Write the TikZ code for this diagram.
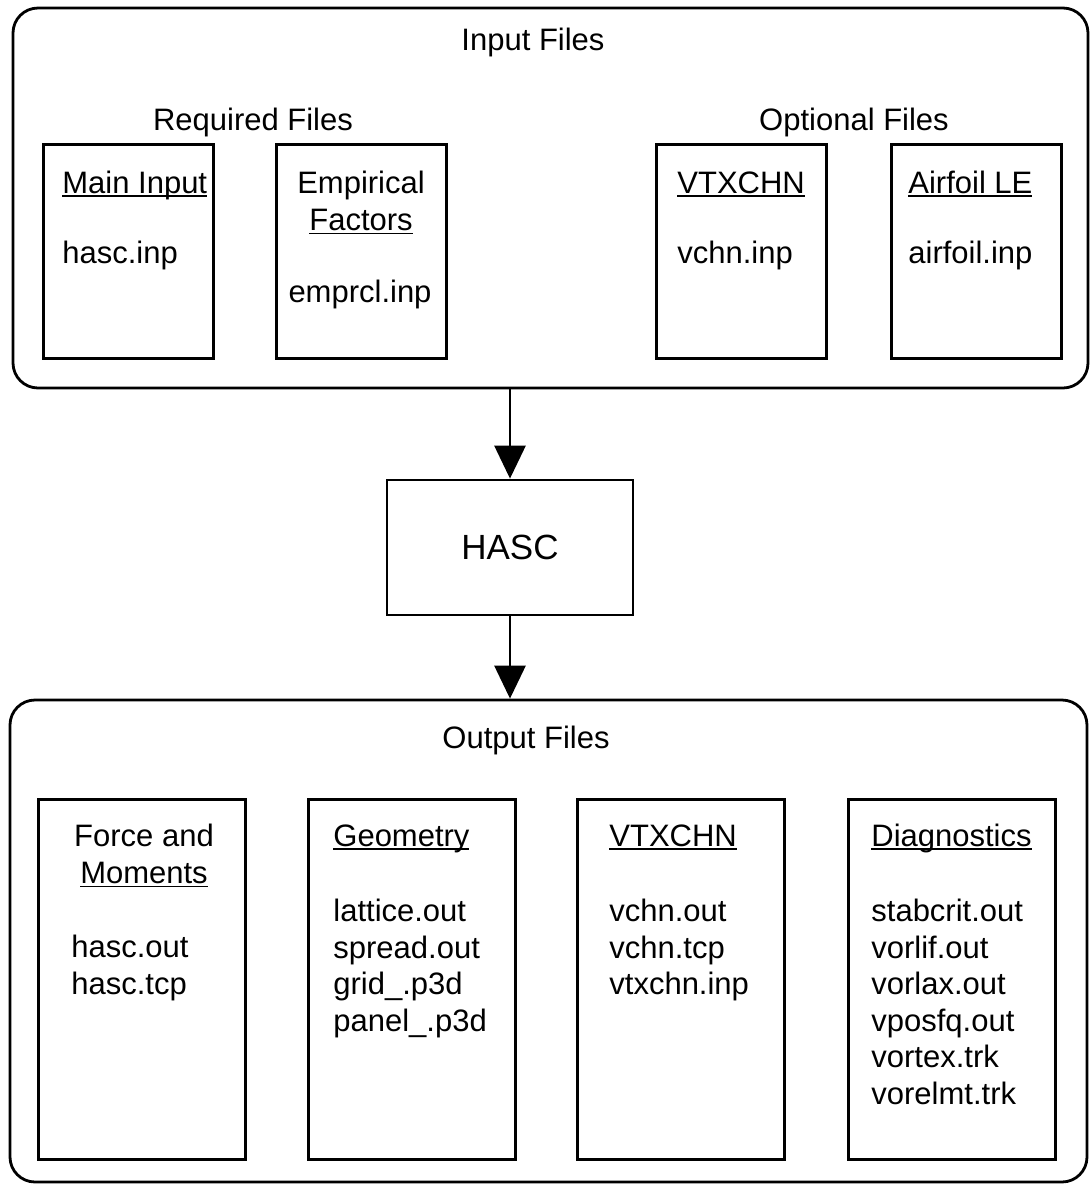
\documentclass[tikz,border=0pt]{standalone}
\usepackage{fontspec}
\setmainfont{Liberation Sans}
\usetikzlibrary{arrows.meta,positioning}
\newsavebox\ulbox
\newcommand{\ulin}[1]{\sbox\ulbox{#1}\rlap{\rule[-2pt]{\wd\ulbox}{0.9pt}}\usebox\ulbox}
\tikzset{
  grp/.style={draw,line width=1.4pt,rounded corners=12.5pt,inner sep=0pt},
  fbox/.style={draw,line width=1.4pt,anchor=north west,minimum width=85pt,minimum height=107pt,inner sep=0pt},
  obox/.style={fbox,minimum width=103.5pt,minimum height=180pt},
  prog/.style={draw,line width=1.4pt,minimum width=123pt,minimum height=67.5pt,font=\fontsize{17.5pt}{20pt}\selectfont},
  ttl/.style={anchor=base,inner sep=0pt},
  hd/.style={anchor=base west,inner sep=0pt},
  hdc/.style={anchor=north,align=center,inner sep=0pt},
  lst/.style={anchor=north west,align=left,inner sep=0pt},
  arr/.style={-{Triangle[length=16.5pt,width=15.5pt]},line width=1.4pt},
}
\begin{document}
\begin{tikzpicture}[x=0.5pt,y=-0.5pt,font=\fontsize{15.5pt}{18.25pt}\selectfont]
\useasboundingbox (0,0) rectangle (1092,1190);
% input files
\node[grp,minimum width=537.5pt,minimum height=190pt] (inp) at (550.5,198) {};
\node[ttl] (inpt) at (533,50) {Input Files};
\node[ttl] (req) at (253,130) {Required Files};
\node[ttl] (opt) at (854,130) {Optional Files};
\node[fbox] (mainb) at (42,143) {};
\node[fbox] (empb) at (275,143) {};
\node[fbox] (vinb) at (655,143) {};
\node[fbox] (airb) at (890,143) {};
\node[hd] (mainh) at (62,193) {\ulin{Main Input}};
\node[hd] (mainf) at (62,263) {hasc.inp};
\node[hdc] (emph) at (361,171) {Empirical\\\ulin{Factors}};
\node[ttl] (empf) at (360,302) {emprcl.inp};
\node[hd] (vinh) at (677,193) {\ulin{VTXCHN}};
\node[hd] (vinf) at (677,263) {vchn.inp};
\node[hd] (airh) at (908,193) {\ulin{Airfoil LE}};
\node[hd] (airf) at (908,263) {airfoil.inp};
% program
\node[prog] (hasc) at (510,547.5) {HASC};
% output files
\node[grp,minimum width=538.5pt,minimum height=241pt] (outp) at (548.5,941) {};
\node[ttl] (outt) at (526,748) {Output Files};
\node[obox] (frcb) at (37,798) {};
\node[obox] (geob) at (307,798) {};
\node[obox] (voutb) at (576,798) {};
\node[obox] (diab) at (847,798) {};
\node[hdc] (frch) at (144,824) {Force and\\\ulin{Moments}};
\node[lst] (frcf) at (71,935) {hasc.out\\hasc.tcp};
\node[hd] (geoh) at (333,846) {\ulin{Geometry}};
\node[lst] (geof) at (333,899) {lattice.out\\spread.out\\grid\_.p3d\\panel\_.p3d};
\node[hd] (vouth) at (609,846) {\ulin{VTXCHN}};
\node[lst] (voutf) at (609,899) {vchn.out\\vchn.tcp\\vtxchn.inp};
\node[hd] (diah) at (871,846) {\ulin{Diagnostics}};
\node[lst] (diaf) at (871,899) {stabcrit.out\\vorlif.out\\vorlax.out\\vposfq.out\\vortex.trk\\vorelmt.trk};
% flow
\draw[arr] (hasc.north |- inp.south) -- (hasc.north);
\draw[arr] (hasc.south) -- (hasc.south |- outp.north);
\end{tikzpicture}
\end{document}
